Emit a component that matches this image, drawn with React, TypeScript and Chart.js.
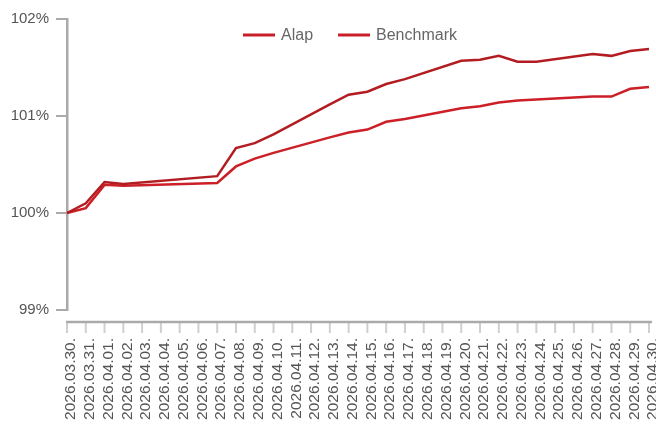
import React, { useEffect, useRef } from 'react';
import { Chart, registerables } from 'chart.js';

Chart.register(...registerables);

const labels = [
  '2026.03.30.', '2026.03.31.', '2026.04.01.', '2026.04.02.', '2026.04.03.', '2026.04.04.',
  '2026.04.05.', '2026.04.06.', '2026.04.07.', '2026.04.08.', '2026.04.09.', '2026.04.10.',
  '2026.04.11.', '2026.04.12.', '2026.04.13.', '2026.04.14.', '2026.04.15.', '2026.04.16.',
  '2026.04.17.', '2026.04.18.', '2026.04.19.', '2026.04.20.', '2026.04.21.', '2026.04.22.',
  '2026.04.23.', '2026.04.24.', '2026.04.25.', '2026.04.26.', '2026.04.27.', '2026.04.28.',
  '2026.04.29.', '2026.04.30.',
];

const alap = [
  100.0, 100.1, 100.32, 100.3, null, null, null, null, 100.38, 100.67, 100.72, 100.81,
  null, null, 101.12, 101.22, 101.25, 101.33, 101.38, null, null, 101.57, 101.58, 101.62,
  101.56, 101.56, null, null, 101.64, 101.62, 101.67, 101.69,
];

const benchmark = [
  100.0, 100.05, 100.29, 100.28, null, null, null, null, 100.31, 100.48, 100.56, 100.62,
  null, null, 100.78, 100.83, 100.86, 100.94, 100.97, null, null, 101.08, 101.1, 101.14,
  101.16, 101.17, null, null, 101.2, 101.2, 101.28, 101.3,
];

const yTicks = [99, 100, 101, 102];

const FONT = '"Liberation Sans", Arial, Helvetica, sans-serif';

const xAxisPlugin = {
  id: 'xAxisLine',
  afterDraw(chart: any) {
    const { ctx, chartArea, scales } = chart;
    const xs = scales.x;
    const y0 = chartArea.bottom + 12;
    ctx.save();
    ctx.strokeStyle = '#cfcfcf';
    ctx.lineWidth = 2;
    for (let i = 0; i < labels.length; i++) {
      const px = xs.getPixelForValue(i);
      ctx.beginPath();
      ctx.moveTo(px, y0);
      ctx.lineTo(px, y0 + 11);
      ctx.stroke();
    }
    ctx.strokeStyle = '#aaaaaa';
    ctx.lineWidth = 2.5;
    ctx.beginPath();
    ctx.moveTo(xs.left - 1, y0);
    ctx.lineTo(xs.right + 3, y0);
    ctx.stroke();
    ctx.restore();
  },
};

const legendPlugin = {
  id: 'customLegend',
  afterDraw(chart: any) {
    const { ctx, chartArea } = chart;
    ctx.save();
    ctx.font = '16px ' + FONT;
    const items = chart.data.datasets.map((ds: any) => ({
      label: ds.label,
      w: ctx.measureText(ds.label).width,
    }));
    const lineW = 32;
    const gapText = 6;
    const gapItem = 25;
    const total =
      items.reduce((s: number, it: any) => s + lineW + gapText + it.w, 0) + gapItem * (items.length - 1);
    let x = (chartArea.left + chartArea.right) / 2 - total / 2 - 8;
    const y = chartArea.top + 16;
    ctx.textBaseline = 'middle';
    for (const it of items) {
      ctx.strokeStyle = '#c8202a';
      ctx.lineWidth = 3;
      ctx.beginPath();
      ctx.moveTo(x, y);
      ctx.lineTo(x + lineW, y);
      ctx.stroke();
      ctx.fillStyle = '#666666';
      ctx.fillText(it.label, x + lineW + gapText, y + 1);
      x += lineW + gapText + it.w + gapItem;
    }
    ctx.restore();
  },
};

export default function App() {
  const ref = useRef<HTMLCanvasElement | null>(null);

  useEffect(() => {
    document.body.style.margin = '0';
    if (!ref.current) return;
    Chart.defaults.font.family = FONT;
    const chart = new Chart(ref.current, {
      type: 'line',
      data: {
        labels,
        datasets: [
          {
            label: 'Alap',
            data: alap,
            borderColor: '#b31d22',
            backgroundColor: '#b31d22',
            borderWidth: 2.5,
            pointRadius: 0,
            tension: 0,
            spanGaps: true,
          },
          {
            label: 'Benchmark',
            data: benchmark,
            borderColor: '#cc1f27',
            backgroundColor: '#cc1f27',
            borderWidth: 2.5,
            pointRadius: 0,
            tension: 0,
            spanGaps: true,
          },
        ],
      },
      options: {
        animation: false,
        responsive: false,
        maintainAspectRatio: false,
        layout: { padding: { top: 19, right: 7, bottom: 2, left: 10 } },
        plugins: {
          legend: { display: false },
          tooltip: { enabled: false },
        },
        scales: {
          x: {
            type: 'category',
            offset: false,
            grid: { display: false, drawTicks: false },
            border: { display: false },
            afterFit: (scale: any) => {
              scale.height = 115;
              scale.paddingLeft = 0;
              scale.paddingRight = 0;
            },
            ticks: {
              autoSkip: false,
              maxRotation: 90,
              minRotation: 90,
              padding: 28,
              labelOffset: 4,
              color: '#555555',
              font: { size: 15.5, family: FONT },
            },
          },
          y: {
            min: 99,
            max: 102,
            afterBuildTicks: (scale: any) => {
              scale.ticks = yTicks.map((v) => ({ value: v }));
            },
            afterFit: (scale: any) => {
              scale.width = 57;
              scale.paddingTop = 0;
              scale.paddingBottom = 0;
            },
            grid: {
              drawOnChartArea: false,
              drawTicks: true,
              tickLength: 11,
              color: '#aaaaaa',
              lineWidth: 2,
            },
            border: { display: true, color: '#aaaaaa', width: 2.5 },
            ticks: {
              padding: 7,
              color: '#555555',
              font: { size: 15, family: FONT },
              callback: (v: any) => v + '%',
            },
          },
        },
      },
      plugins: [xAxisPlugin, legendPlugin],
    });
    return () => chart.destroy();
  }, []);

  return (
    <div style={{ width: 656, height: 427, background: '#fff' }}>
      <canvas ref={ref} width={656} height={427} />
    </div>
  );
}
